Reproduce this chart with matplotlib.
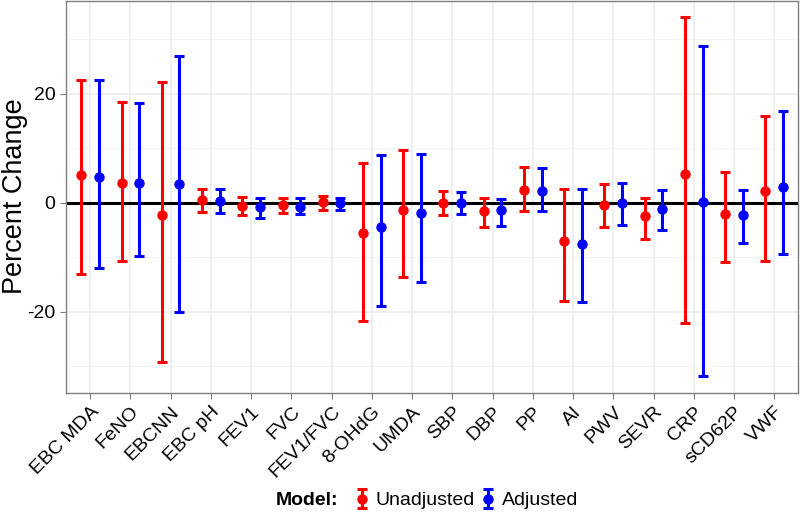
import numpy as np
import matplotlib
matplotlib.use('Agg')
from matplotlib import pyplot as plt
from matplotlib.ticker import MultipleLocator

plt.rcParams['font.family'] = ['Liberation Sans', 'DejaVu Sans']
plt.rcParams['axes.unicode_minus'] = False

outcomes = ['EBC MDA', 'FeNO', 'EBCNN', 'EBC pH', 'FEV1', 'FVC', 'FEV1/FVC', '8-OHdG',
            'UMDA', 'SBP', 'DBP', 'PP', 'AI', 'PWV', 'SEVR', 'CRP', 'sCD62P', 'VWF']

unadj_est = [5.15, 3.6, -2.3, 0.5, -0.6, -0.5, 0.05, -5.6, -1.4, 0.0, -1.6, 2.3, -7.0, -0.4, -2.5, 5.3, -2.1, 2.1]
unadj_lo = [-13.0, -10.7, -29.2, -1.7, -2.2, -1.8, -1.3, -21.7, -13.6, -2.2, -4.5, -1.5, -18.0, -4.5, -6.6, -22.1, -10.8, -10.7]
unadj_hi = [22.45, 18.5, 22.1, 2.6, 1.0, 0.9, 1.3, 7.2, 9.6, 2.1, 0.9, 6.5, 2.6, 3.4, 0.9, 34.0, 5.7, 16.0]

adj_est = [4.7, 3.6, 3.4, 0.4, -0.8, -0.7, -0.05, -4.5, -1.9, 0.0, -1.4, 2.2, -7.6, 0.0, -1.2, 0.05, -2.3, 2.9]
adj_lo = [-11.9, -9.7, -20.0, -1.8, -2.8, -2.1, -1.4, -18.9, -14.5, -2.1, -4.2, -1.5, -18.3, -4.0, -5.0, -31.8, -7.4, -9.4]
adj_hi = [22.45, 18.3, 26.9, 2.45, 0.8, 0.8, 0.8, 8.8, 9.0, 1.95, 0.7, 6.3, 2.6, 3.7, 2.3, 28.7, 2.3, 16.9]

fig = plt.figure(figsize=(8, 5.23), dpi=100)
ax = fig.add_axes([0.0825, 0.2486, 0.9155, 0.7494])

x = np.arange(len(outcomes))
dodge = 0.22

def draw(xs, est, lo, hi, col, lab):
    est = np.array(est); lo = np.array(lo); hi = np.array(hi)
    return ax.errorbar(xs, est, yerr=[est - lo, hi - est], fmt='o', color=col, ms=6.5,
                       elinewidth=2.2, capsize=3.3, capthick=2.2, label=lab, zorder=3)

ax.axhline(0, color='black', lw=2.2, zorder=2)
h1 = draw(x - dodge, unadj_est, unadj_lo, unadj_hi, '#FF0000', 'Unadjusted')
h2 = draw(x + dodge, adj_est, adj_lo, adj_hi, '#0000FF', 'Adjusted')

ax.set_xlim(-0.6, len(outcomes) - 0.4)
ax.set_ylim(-34.9, 37.0)
ax.set_xticks(x)
ax.set_xticklabels(outcomes, rotation=45, ha='right', va='top', rotation_mode='anchor', fontsize=14)
ax.yaxis.set_major_locator(MultipleLocator(20))
ax.yaxis.set_minor_locator(MultipleLocator(10))
ax.tick_params(axis='y', labelsize=14, color='#7F7F7F', length=4)
ax.tick_params(axis='x', color='#7F7F7F', length=4)
ax.tick_params(axis='y', which='minor', length=0)
fig.text(0.019, 0.25 + 0.75 / 2, 'Percent Change', fontsize=19.5, rotation=90, ha='center', va='center')

ax.grid(True, which='major', color='#EBEBEB', lw=1.1, zorder=0)
ax.grid(True, which='minor', axis='y', color='#F2F2F2', lw=0.6, zorder=0)
ax.set_axisbelow(True)
for s in ax.spines.values():
    s.set_color('#7F7F7F')
    s.set_linewidth(1.0)

fig.text(0.345, 0.043, 'Model:', fontsize=14, fontweight='bold', ha='left', va='center')
fig.legend(handles=[h1, h2], loc='center left', bbox_to_anchor=(0.43, 0.043), ncol=2,
           frameon=False, fontsize=14, handlelength=0.8, handletextpad=0.3, columnspacing=0.3,
           borderpad=0)

fig.savefig('out.png', dpi=100)
